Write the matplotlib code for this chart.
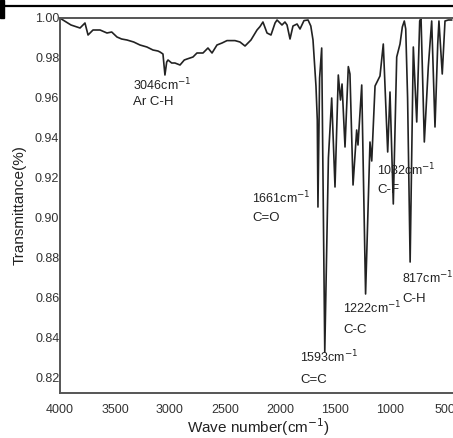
import matplotlib
matplotlib.use("Agg")
import matplotlib.pyplot as plt
from matplotlib.lines import Line2D
from matplotlib.patches import Rectangle

plt.rcParams['font.family'] = ['Liberation Sans', 'DejaVu Sans']

# FT-IR spectrum (wavenumber cm^-1, transmittance)
wavenumber = [4000, 3982, 3900, 3818, 3773, 3745, 3700, 3636, 3573, 3530, 3482, 3440,
              3391, 3330, 3273, 3210, 3155, 3110, 3091, 3064, 3046, 3030, 3018, 2985,
              2955, 2909, 2870, 2845, 2791, 2755, 2700, 2655, 2618, 2573, 2527, 2482,
              2409, 2364, 2318, 2264, 2209, 2182, 2155, 2118, 2082, 2045, 2027, 1982,
              1955, 1936, 1909, 1882, 1845, 1818, 1782, 1745, 1720, 1700, 1673, 1661,
              1655, 1640, 1621, 1593, 1560, 1530, 1500, 1470, 1450, 1436, 1409, 1379,
              1364, 1336, 1303, 1291, 1257, 1222, 1182, 1166, 1136, 1091, 1061, 1021,
              1000, 970, 939, 909, 888, 870, 857, 840, 817, 788, 757, 730, 718,
              688, 652, 621, 591, 566, 555, 525, 500, 470, 440]
transmittance = [1.000, 0.9993, 0.9965, 0.995, 0.9975, 0.9915, 0.994, 0.994, 0.9925, 0.993, 0.9905, 0.9895,
                 0.989, 0.9880, 0.9865, 0.9855, 0.984, 0.9835, 0.983, 0.982, 0.9715, 0.978, 0.979, 0.9775,
                 0.9775, 0.9765, 0.9790, 0.9795, 0.9805, 0.9825, 0.9825, 0.985, 0.9825, 0.9865, 0.9875, 0.9887,
                 0.9887, 0.988, 0.986, 0.989, 0.994, 0.9957, 0.998, 0.9925, 0.9915, 0.9975, 0.999, 0.9965,
                 0.998, 0.9965, 0.9895, 0.996, 0.997, 0.9945, 0.9987, 0.999, 0.996, 0.989, 0.966, 0.949,
                 0.9055, 0.970, 0.985, 0.833, 0.930, 0.960, 0.9155, 0.9715, 0.959, 0.967, 0.9355, 0.9757,
                 0.972, 0.9165, 0.944, 0.9365, 0.9665, 0.862, 0.938, 0.9285, 0.966, 0.971, 0.987, 0.933,
                 0.963, 0.907, 0.9805, 0.987, 0.9955, 0.9985, 0.9945, 0.960, 0.878, 0.9855, 0.948, 0.9985, 1.0,
                 0.938, 0.9755, 0.9985, 0.9455, 0.987, 0.9985, 0.972, 0.9985, 0.999, 0.999]

# peak annotations: label, assignment, x position, y of first and second line
ann_labels = ["3046", "1661", "1593", "1222", "817", "1032"]
ann_groups = ["Ar C-H", "C=O", "C=C", "C-C", "C-H", "C-F"]
ann_x = [3336, 2255, 1818, 1427, 890, 1118]
ann_y1 = [0.9665, 0.9100, 0.8305, 0.8550, 0.8700, 0.9240]
ann_y2 = [0.9580, 0.9000, 0.8190, 0.8440, 0.8595, 0.9140]

fig = plt.figure(figsize=(4.53, 4.38), dpi=100)
ax = fig.add_axes([60/453, 1-393/438, (456-60)/453, (393-18)/438])

ax.plot(wavenumber, transmittance, color='#222222', lw=1.2)
ax.set_xlim(4000, 400)
ax.set_ylim(0.8125, 1.0)
ax.set_xticks([4000, 3500, 3000, 2500, 2000, 1500, 1000, 500])
ax.set_yticks([0.82, 0.84, 0.86, 0.88, 0.90, 0.92, 0.94, 0.96, 0.98, 1.00])
ax.set_yticklabels([f"{v:.2f}" for v in ax.get_yticks()])
ax.tick_params(axis='both', length=0, labelsize=9, colors='#333333')
ax.tick_params(axis='y', pad=0.5)
ax.tick_params(axis='x', pad=8)
for s in ax.spines.values():
    s.set_color('#555555')
    s.set_linewidth(1.4)
ax.spines['right'].set_visible(False)

ax.set_xlabel("Wave number(cm$^{-1}$)", fontsize=11, color='#222222', labelpad=0)
ax.set_ylabel("Transmittance(%)", fontsize=11, color='#222222', labelpad=6)

for lab, grp, x, y1, y2 in zip(ann_labels, ann_groups, ann_x, ann_y1, ann_y2):
    ax.text(x, y1, lab + "cm$^{-1}$", fontsize=9, color='#222222', ha='left', va='center')
    ax.text(x, y2, grp, fontsize=9.5, color='#222222', ha='left', va='center')

# page frame remnants at the top of the crop
fig.add_artist(Line2D([0, 1], [1-6/438, 1-6/438], color='black', lw=1.6, transform=fig.transFigure))
fig.add_artist(Rectangle((0, 1-18/438), 4/453, 18/438, color='black', transform=fig.transFigure))

fig.savefig("out.png", dpi=100)
